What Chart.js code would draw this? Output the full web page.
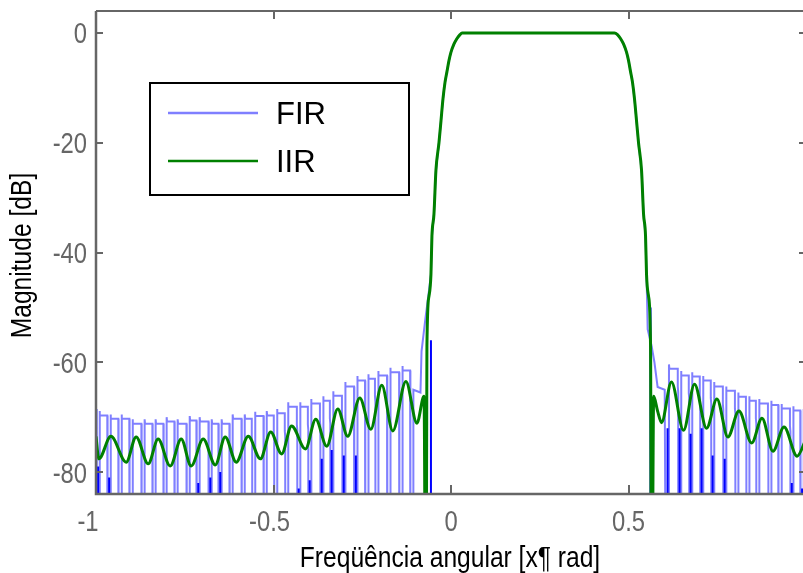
<!DOCTYPE html>
<html><head><meta charset="utf-8">
<script src="https://cdn.jsdelivr.net/npm/chart.js@4/dist/chart.umd.min.js"></script>
<style>
html,body{margin:0;padding:0;background:#fff;overflow:hidden;width:803px;height:573px}
canvas{display:block}
</style></head>
<body>
<canvas id="c" width="812" height="573"></canvas>
<script>
// ---------------- data ----------------
const seriesNames = ['FIR', 'IIR'];
const xTickLabels = ['-1', '-0.5', '0', '0.5'];
const yTickLabels = ['0', '-20', '-40', '-60', '-80'];
const xTitle = 'Freqüência angular [x¶ rad]';
const yTitle = 'Magnitude [dB]';

// FIR stopband: frequencies of the nulls and level of each lobe between them
const firStart = [-1, -68.5];
const firNullsLeft = [-0.994,-0.963,-0.932,-0.901,-0.867,-0.836,-0.805,-0.774,-0.740,-0.712,
  -0.678,-0.650,-0.619,-0.585,-0.556,-0.523,-0.494,-0.463,-0.429,-0.398,
  -0.364,-0.336,-0.302,-0.268,-0.237,-0.209,-0.175,-0.141,-0.110];
const firTopsLeft = [-68.9,-69.5,-69.5,-70.4,-70.4,-70.4,-70.0,-70.4,-69.8,-70.0,
  -70.4,-70.4,-69.5,-69.5,-69.0,-68.9,-68.5,-67.3,-67.3,-66.7,
  -66.2,-65.3,-63.6,-62.5,-62.2,-61.6,-61.0,-60.7];
const firLeftTransX = [-0.106,-0.086,-0.083,-0.072,-0.0621,-0.0565];
const firLeftTransY = [-65,-65.5,-58,-52,-47,-44];
const firRightTransX = [0.554,0.565,0.573,0.582,0.602];
const firRightTransY = [-54,-57,-60,-64.5,-65];
const firNullsRight = [0.610,0.644,0.675,0.706,0.737,0.771,0.805,0.836,0.864,0.898,0.927,0.960,0.989];
const firTopsRight = [-60.4,-61.6,-61.8,-62.5,-63.6,-64.4,-65.5,-66.2,-66.7,-67.0,-67.6,-68.0,-68.5];

// passband (shared by both filters)
const passX = [-0.0678,-0.0621,-0.0565,-0.0537,-0.0480,-0.0424,-0.0339,-0.0282,-0.0226,-0.0169,
  -0.0113,-0.0056,0,0.0085,0.0169,0.0254,0.0311,0.25,0.4605,0.4689,
  0.4774,0.4859,0.4944,0.5000,0.5056,0.5113,0.5169,0.5226,0.5282,0.5367,
  0.5424,0.5480,0.5508,0.5565,0.5621];
const passY = [-57,-48,-44,-37,-33,-25,-20,-16,-12,-9,
  -7,-5,-3.5,-2,-1,-0.3,0,0,0,-0.3,
  -1,-2,-3.5,-5,-7,-9,-12,-16,-20,-25,
  -33,-37,-44,-48,-57];

// IIR stopbands
const iirLeftX = [-1.0,-0.992,-0.958,-0.915,-0.887,-0.853,-0.825,-0.791,-0.760,-0.732,
  -0.698,-0.664,-0.636,-0.605,-0.571,-0.537,-0.508,-0.477,-0.449,-0.410,
  -0.381,-0.350,-0.319,-0.291,-0.257,-0.226,-0.195,-0.164,-0.127,-0.096,-0.076];
const iirLeftY = [-73.5,-77.6,-73.5,-78.2,-73.6,-78.5,-74.0,-78.9,-74.0,-78.9,
  -74.0,-78.7,-73.6,-78.2,-73.5,-77.6,-72.7,-76.7,-71.6,-75.8,
  -70.4,-75.3,-68.5,-73.5,-66.5,-72.2,-64.2,-72.5,-63.5,-71.1,-66.2];
const iirNulls = [-0.0706, 0.5650];
const iirRightX = [0.571,0.582,0.593,0.621,0.655,0.686,0.720,0.749,0.780,0.811,0.847,0.876,0.907,0.938,0.975,1.0];
const iirRightY = [-66.2,-68.9,-71.0,-63.6,-72.4,-64.0,-72.0,-66.7,-73.6,-68.9,-74.7,-70.2,-76.2,-71.8,-77.1,-74.0];

// deep nulls drawn in dark blue: frequency and level where the dark stroke starts
const darkX = [-0.994,-0.963,-0.712,-0.678,-0.650,-0.429,-0.398,-0.364,-0.336,-0.302,-0.268,-0.0565,
  0.562,0.610,0.644,0.675,0.706,0.737,0.771,0.960,0.989];
const darkTop = [-79,-81,-82,-81,-80,-83,-81.5,-77.6,-76,-77,-77,-56,
  -50,-72,-72,-73,-72,-77,-77.6,-82,-83];

// ---------------- build the series ----------------
const NEG = -120;          // "minus infinity" of a null, below the visible range
const HALF_BAND = 0.004;   // half width of a null notch
const STEP = 0.0012;       // small stair on the falling side of each lobe

function pushLobe(p, a, b, top, closeDown) {
  p.push({x: a, y: NEG}, {x: a, y: top}, {x: a + STEP, y: top - 0.8}, {x: b - STEP, y: top - 0.8},
         {x: b - STEP, y: top - 4});
  if (closeDown) p.push({x: b, y: top - 5}, {x: b, y: NEG});
  else p.push({x: b, y: top - 4});
}

function buildFir() {
  const p = [];
  p.push({x: firStart[0], y: firStart[1]});
  p.push({x: firNullsLeft[0] - HALF_BAND, y: NEG});
  for (let i = 0; i < firTopsLeft.length; i++) {
    pushLobe(p, firNullsLeft[i] + HALF_BAND, firNullsLeft[i + 1] - HALF_BAND, firTopsLeft[i], true);
  }
  p.push({x: firNullsLeft[firNullsLeft.length - 1] + HALF_BAND, y: NEG});
  firLeftTransX.forEach((x, i) => p.push({x, y: firLeftTransY[i]}));
  passX.forEach((x, i) => { if (x > -0.055 && x < 0.551) p.push({x, y: passY[i]}); });
  firRightTransX.forEach((x, i) => p.push({x, y: firRightTransY[i]}));
  p.push({x: firNullsRight[0] - HALF_BAND, y: NEG});
  for (let i = 0; i < firTopsRight.length; i++) {
    const last = i + 1 >= firNullsRight.length;
    const b = last ? 1.0 : firNullsRight[i + 1] - HALF_BAND;
    pushLobe(p, firNullsRight[i] + HALF_BAND, b, firTopsRight[i], !last);
  }
  return p;
}
function buildIir() {
  const p = [];
  iirLeftX.forEach((x, i) => p.push({x, y: iirLeftY[i]}));
  p.push({x: iirNulls[0], y: NEG});
  passX.forEach((x, i) => p.push({x, y: passY[i]}));
  p.push({x: iirNulls[1], y: NEG});
  iirRightX.forEach((x, i) => p.push({x, y: iirRightY[i]}));
  return p;
}
function buildDark() {
  const p = [];
  darkX.forEach((x, i) => { p.push({x, y: darkTop[i]}, {x, y: NEG}, {x, y: null}); });
  return p;
}

// ---------------- styling ----------------
const AXIS_COLOR = '#666666';
const SANS = "'Liberation Sans',Arial,sans-serif";
const NARROW_SCALE = 0.82;   // the reference uses a narrow (condensed) face
const FIR_COLOR = 'rgba(0,0,255,0.5)';
const IIR_COLOR = '#008000';
const xLabelShift = {'-1': -8, '-0.5': -4};

function narrowText(ctx, text, x, y, align, rot) {
  ctx.save();
  ctx.translate(x, y);
  if (rot) ctx.rotate(rot);
  ctx.scale(NARROW_SCALE, 1);
  ctx.textAlign = align;
  ctx.fillText(text, 0, 0);
  ctx.restore();
}

const boxAxes = {
  id: 'boxAxes',
  afterDatasetsDraw(chart) {
    const {ctx, chartArea: {left, right, top, bottom}, scales: {x, y}} = chart;
    ctx.save();
    ctx.strokeStyle = AXIS_COLOR;
    ctx.lineWidth = 2.5;
    ctx.beginPath();
    ctx.moveTo(left, top); ctx.lineTo(left, bottom); ctx.lineTo(right, bottom); ctx.lineTo(right, top);
    ctx.stroke();
    ctx.lineWidth = 2;
    ctx.beginPath(); ctx.moveTo(left, top); ctx.lineTo(right, top); ctx.stroke();
    ctx.beginPath();
    xTickLabels.forEach(t => {
      const px = Math.round(x.getPixelForValue(Number(t)));
      ctx.moveTo(px, bottom); ctx.lineTo(px, bottom - 9);
      ctx.moveTo(px, top); ctx.lineTo(px, top + 8);
    });
    yTickLabels.forEach(t => {
      const py = Math.round(y.getPixelForValue(Number(t)));
      ctx.moveTo(left, py); ctx.lineTo(left + 7, py);
      ctx.moveTo(right, py); ctx.lineTo(right - 7, py);
    });
    ctx.stroke();

    // tick labels and axis titles (condensed text)
    ctx.textBaseline = 'alphabetic';
    ctx.fillStyle = AXIS_COLOR;
    ctx.font = '29px ' + SANS;
    xTickLabels.forEach(t => {
      const px = x.getPixelForValue(Number(t)) + (xLabelShift[t] || 0);
      narrowText(ctx, t, px, bottom + 37, 'center', 0);
    });
    yTickLabels.forEach(t => {
      const py = y.getPixelForValue(Number(t));
      narrowText(ctx, t, left - 9, py + 10.5, 'right', 0);
    });
    ctx.fillStyle = '#000';
    ctx.font = '30px ' + SANS;
    narrowText(ctx, xTitle, (left + 806) / 2 - 1, 567, 'center', 0);
    narrowText(ctx, yTitle, 31, (top + bottom) / 2 + 3, 'center', -Math.PI / 2);
    ctx.restore();
  }
};

const boxLegend = {
  id: 'boxLegend',
  afterDraw(chart) {
    const {ctx} = chart;
    ctx.save();
    ctx.fillStyle = '#ffffff';
    ctx.fillRect(150, 83, 259, 112);
    ctx.strokeStyle = '#000000';
    ctx.lineWidth = 2;
    ctx.strokeRect(150, 83, 259, 112);
    const rows = [
      {name: seriesNames[0], color: FIR_COLOR, y: 113, w: 2.5},
      {name: seriesNames[1], color: IIR_COLOR, y: 161, w: 2.5}
    ];
    ctx.font = '31px ' + SANS;
    ctx.textBaseline = 'middle';
    ctx.textAlign = 'left';
    rows.forEach(r => {
      ctx.strokeStyle = r.color; ctx.lineWidth = r.w;
      ctx.beginPath(); ctx.moveTo(168, r.y); ctx.lineTo(258, r.y); ctx.stroke();
      ctx.fillStyle = '#000';
      ctx.fillText(r.name, 276, r.y + 2);
    });
    ctx.restore();
  }
};

function fixX(s) { s.height = 79; s.paddingLeft = 0; s.paddingRight = 0; s.paddingTop = 0; s.paddingBottom = 0; }
function fixY(s) { s.width = 96; s.paddingLeft = 0; s.paddingRight = 0; s.paddingTop = 0; s.paddingBottom = 0; }

new Chart(document.getElementById('c'), {
  type: 'line',
  data: {
    datasets: [
      {label: seriesNames[1], data: buildIir(), borderColor: IIR_COLOR, borderWidth: 3, pointRadius: 0, order: 0, cubicInterpolationMode: 'monotone'},
      {label: 'nulls', data: buildDark(), borderColor: '#0000ff', borderWidth: 2, pointRadius: 0, spanGaps: false, order: 1},
      {label: seriesNames[0], data: buildFir(), borderColor: FIR_COLOR, borderWidth: 2, pointRadius: 0, order: 2}
    ]
  },
  options: {
    responsive: false,
    animation: false,
    devicePixelRatio: 1,
    layout: {padding: {left: 0, top: 11, right: 6, bottom: 0}},
    plugins: {legend: {display: false}, tooltip: {enabled: false}},
    scales: {
      x: {
        type: 'linear', min: -1, max: 1,
        afterBuildTicks(s) { s.ticks = xTickLabels.map(t => ({value: Number(t)})); },
        afterFit: fixX,
        grid: {display: false, drawTicks: false},
        border: {display: false},
        ticks: {display: false},
        title: {display: false}
      },
      y: {
        type: 'linear', min: -84, max: 4,
        afterBuildTicks(s) { s.ticks = yTickLabels.map(t => ({value: Number(t)})); },
        afterFit: fixY,
        grid: {display: false, drawTicks: false},
        border: {display: false},
        ticks: {display: false},
        title: {display: false}
      }
    }
  },
  plugins: [boxAxes, boxLegend]
});
</script>
</body></html>
